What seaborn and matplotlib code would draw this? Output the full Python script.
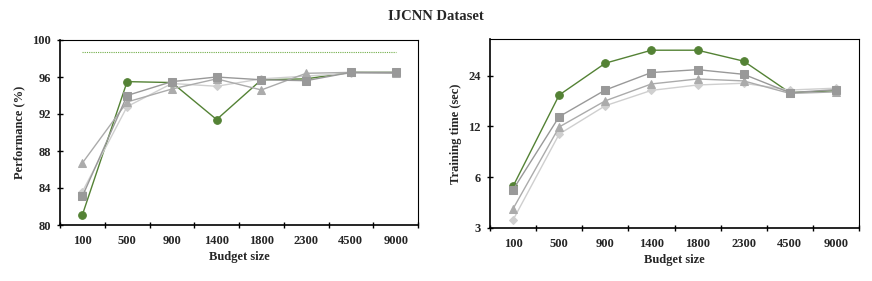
import numpy as np
import pandas as pd
import seaborn as sns
from matplotlib import pyplot as plt
from matplotlib.ticker import FixedLocator, NullLocator

budgets = ["100", "500", "900", "1400", "1800", "2300", "4500", "9000"]
# drawing order: green first so the gray series sit on top where they overlap
methods = ["circle", "diamond", "triangle", "square"]

perf_circle = [81.1, 95.5, 95.4, 91.4, 95.7, 95.8, 96.5, 96.5]
perf_square = [83.1, 94.0, 95.5, 96.0, 95.7, 95.6, 96.5, 96.5]
perf_triangle = [86.7, 93.3, 94.7, 95.8, 94.6, 96.4, 96.5, 96.4]
perf_diamond = [83.6, 92.8, 95.3, 95.0, 95.8, 96.1, 96.4, 96.4]
full_data_perf = 98.7

time_circle = [5.3, 18.4, 28.4, 33.9, 33.9, 29.2, 19.0, 19.5]
time_square = [5.06, 13.7, 19.7, 25.0, 26.0, 24.4, 19.0, 19.8]
time_triangle = [3.9, 11.9, 17.0, 21.4, 22.9, 22.3, 18.8, 19.2]
time_diamond = [3.35, 10.8, 15.9, 19.6, 21.1, 21.6, 19.7, 20.2]

palette = {
    "circle": "#548235",
    "square": "#999999",
    "triangle": "#ababab",
    "diamond": "#cfcfcf",
}
markers = {"circle": "o", "square": "s", "triangle": "^", "diamond": "D"}
marker_sizes = {"circle": 5.5, "square": 5.5, "triangle": 5.5, "diamond": 4.5}

FS = 9


def to_long(values_by_method, value_name):
    frames = []
    for method, values in values_by_method.items():
        frames.append(
            pd.DataFrame({"budget": budgets, value_name: values, "method": method})
        )
    df = pd.concat(frames, ignore_index=True)
    df["pos"] = df["budget"].map({b: i for i, b in enumerate(budgets)})
    return df


df_perf = to_long(
    {
        "diamond": perf_diamond,
        "triangle": perf_triangle,
        "square": perf_square,
        "circle": perf_circle,
    },
    "performance",
)
df_time = to_long(
    {
        "diamond": time_diamond,
        "triangle": time_triangle,
        "square": time_square,
        "circle": time_circle,
    },
    "time",
)

sns.set_theme(style="white")
plt.rcParams["font.family"] = ["Liberation Serif", "DejaVu Serif"]
plt.rcParams["font.weight"] = "bold"

fig = plt.figure(figsize=(8.72, 2.81), dpi=100)
ax_perf = fig.add_axes([60 / 872, 1 - 225 / 281, 358 / 872, 185 / 281])
ax_time = fig.add_axes([490 / 872, 1 - 228 / 281, 369 / 872, 189 / 281])


def draw(ax, df, y):
    for method in methods:
        sub = df[df["method"] == method]
        sns.lineplot(
            data=sub,
            x="pos",
            y=y,
            color=palette[method],
            marker=markers[method],
            markersize=marker_sizes[method],
            markeredgecolor=palette[method],
            linewidth=1.0,
            ax=ax,
            legend=False,
        )


def style_axes(ax):
    ax.set_xlim(-0.5, len(budgets) - 0.5)
    ax.xaxis.set_major_locator(FixedLocator(np.arange(len(budgets))))
    ax.set_xticklabels(budgets, fontsize=FS, fontweight="bold")
    ax.xaxis.set_minor_locator(FixedLocator(np.arange(len(budgets) + 1) - 0.5))
    ax.tick_params(axis="x", which="major", length=0, pad=7)
    ax.tick_params(axis="x", which="minor", length=5, width=1, direction="inout",
                   bottom=True, color="black")
    ax.tick_params(axis="y", labelsize=FS, length=5, width=1, direction="inout",
                   left=True, color="black", pad=4)
    for label in ax.get_yticklabels():
        label.set_fontweight("bold")
    for side, spine in ax.spines.items():
        spine.set_color("black")
        spine.set_linewidth(1.2 if side in ("left", "bottom") else 0.8)
    ax.set_xlabel("Budget size", fontsize=FS, fontweight="bold", labelpad=3)
    ax.grid(False)


draw(ax_perf, df_perf, "performance")
ax_perf.hlines(full_data_perf, 0, len(budgets) - 1, colors="#70ad47",
               linestyles=(0, (1, 1)), linewidth=0.8)
ax_perf.set_ylim(80, 100)
ax_perf.set_yticks([80, 84, 88, 92, 96, 100])
ax_perf.set_yticklabels(["80", "84", "88", "92", "96", "100"])
ax_perf.set_ylabel("Performance (%)", fontsize=FS, fontweight="bold", labelpad=5)
style_axes(ax_perf)

draw(ax_time, df_time, "time")
ax_time.set_yscale("log", base=2)
ax_time.set_ylim(3, 39.5)
ax_time.yaxis.set_major_locator(FixedLocator([3, 6, 12, 24]))
ax_time.yaxis.set_minor_locator(NullLocator())
ax_time.set_yticklabels(["3", "6", "12", "24"])
ax_time.set_ylabel("Training time (sec)", fontsize=FS, fontweight="bold", labelpad=5)
style_axes(ax_time)

fig.text(0.5, 1 - 17 / 281, "IJCNN Dataset", ha="center", va="center",
         fontsize=10.5, fontweight="bold")

fig.savefig("out.png", dpi=100)
